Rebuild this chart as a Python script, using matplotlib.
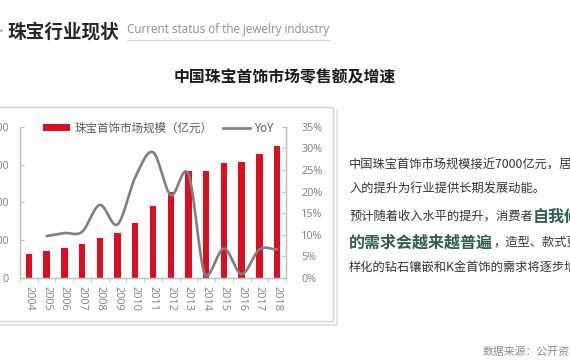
import numpy as np
import matplotlib
matplotlib.use("Agg")
import matplotlib.pyplot as plt
from matplotlib.lines import Line2D
from matplotlib.patches import Rectangle, Patch

plt.rcParams['font.family'] = ['Noto Sans CJK SC', 'DejaVu Sans']

# ---------------- data ----------------
years = ['2004', '2005', '2006', '2007', '2008', '2009', '2010', '2011',
         '2012', '2013', '2014', '2015', '2016', '2017', '2018']
market_size = [1290, 1450, 1610, 1785, 2120, 2385, 2915, 3800,
               4540, 5635, 5670, 6090, 6130, 6550, 6960]
yoy_years = ['2005', '2006', '2007', '2008', '2009', '2010', '2011',
             '2012', '2013', '2014', '2015', '2016', '2017', '2018']
yoy = [9.7, 10.4, 10.7, 16.9, 12.4, 23.3, 29.1, 19.2, 24.0, 0.5, 6.8, 0.9, 6.6, 6.6]
left_ticks = [0, 2000, 4000, 6000, 8000]
right_ticks = [0, 5, 10, 15, 20, 25, 30, 35]
legend_labels = ['珠宝首饰市场规模（亿元）', 'YoY']

header_cn = '珠宝行业现状'
header_en = 'Current status of the jewelry industry'
chart_title = '中国珠宝首饰市场零售额及增速'
source_text = '数据来源：公开资料'

W, H = 570, 360
fig = plt.figure(figsize=(W / 100, H / 100), dpi=100)
fig.patch.set_facecolor('white')

def fx(px):
    return px / W

def fy(py):
    return 1 - py / H

RED = '#dc0f20'
GRAY_LINE = '#7f7f7f'
AX_GRAY = '#bfbfbf'
TICK_GRAY = '#7f7f7f'

# ---------------- chart frame ----------------
fig.add_artist(Rectangle((fx(-3), fy(321)), fx(336), fy(107) - fy(321),
                         transform=fig.transFigure, fill=False,
                         edgecolor='#d4d4d4', lw=1.0))
fig.add_artist(Line2D([fx(337), fx(337)], [fy(110), fy(325)],
                      transform=fig.transFigure, color='#e2e2e2', lw=1.3))
fig.add_artist(Line2D([fx(0), fx(337)], [fy(325), fy(325)],
                      transform=fig.transFigure, color='#e2e2e2', lw=1.3))

# ---------------- axes ----------------
ax = fig.add_axes([fx(20), fy(278), fx(286) - fx(20), fy(126.7) - fy(278)])
ax2 = ax.twinx()
x = np.arange(len(years))
ax.bar(x, market_size, width=0.36, color=RED, zorder=2)
ax.set_xlim(-0.5, len(years) - 0.55)
ax.set_ylim(0, 8000)
ax.set_yticks(left_ticks)
ax.set_yticklabels([str(v) for v in left_ticks])
ax.set_xticks(x)
ax.set_xticklabels(years, rotation=-90)
ax.set_xticks(np.arange(-0.5, len(years)), minor=True)

ax2.set_ylim(0, 35)
ax2.set_yticks(right_ticks)
ax2.set_yticklabels([f'{v}%' for v in right_ticks])

# smoothed YoY curve (Hermite rendering through the read points)
xp = np.array([years.index(y) for y in yoy_years], dtype=float)
yp = np.array(yoy, dtype=float)
n = len(xp)
mx = np.zeros(n); my = np.zeros(n)
for i in range(n):
    a = max(i - 1, 0); b = min(i + 1, n - 1)
    mx[i] = (xp[b] - xp[a]) / (b - a)
    my[i] = (yp[b] - yp[a]) / (b - a)
    # avoid dipping below deep minima
    if 0 < i < n - 1 and yp[i] < yp[i - 1] and yp[i] < yp[i + 1] and yp[i] < 3:
        my[i] = 0.0
cx, cy = [], []
t = np.linspace(0, 1, 30)
h00 = 2 * t**3 - 3 * t**2 + 1
h10 = t**3 - 2 * t**2 + t
h01 = -2 * t**3 + 3 * t**2
h11 = t**3 - t**2
for i in range(n - 1):
    cx.extend(h00 * xp[i] + h10 * mx[i] + h01 * xp[i + 1] + h11 * mx[i + 1])
    cy.extend(h00 * yp[i] + h10 * my[i] + h01 * yp[i + 1] + h11 * my[i + 1])
ax2.plot(cx, cy, color=GRAY_LINE, lw=1.9, zorder=3, solid_capstyle='round')

for a in (ax, ax2):
    a.spines['top'].set_visible(False)
    for s in ('left', 'right', 'bottom'):
        a.spines[s].set_color(AX_GRAY)
        a.spines[s].set_linewidth(0.9)

ax.tick_params(axis='y', direction='in', length=3, color=AX_GRAY, pad=8,
               labelcolor=TICK_GRAY, labelsize=7.8)
ax.tick_params(axis='x', which='major', length=0, pad=6,
               labelcolor=TICK_GRAY, labelsize=7.8)
ax.tick_params(axis='x', which='minor', direction='out', length=3, color=AX_GRAY)
ax2.tick_params(axis='y', direction='in', length=3, color=AX_GRAY, pad=11,
                labelcolor=TICK_GRAY, labelsize=7.8)
for lab in ax.get_xticklabels() + ax.get_yticklabels() + ax2.get_yticklabels():
    lab.set_fontfamily(['Open Sans', 'DejaVu Sans'])

handles = [Patch(facecolor=RED, edgecolor='none'),
           Line2D([0], [0], color=GRAY_LINE, lw=1.9)]
leg = fig.legend(handles, legend_labels, loc='center left',
                 bbox_to_anchor=(fx(43), fy(128)), bbox_transform=fig.transFigure,
                 ncol=2, frameon=False, fontsize=8.3, borderpad=0, borderaxespad=0,
                 handlelength=2.35, handleheight=0.55, handletextpad=0.35,
                 columnspacing=0.9)
for txt in leg.get_texts():
    txt.set_color('#595959')

# ---------------- header ----------------
fig.add_artist(Line2D([fx(127), fx(330)], [fy(40), fy(40)],
                      transform=fig.transFigure, color='#d9d9d9', lw=1.0))
fig.text(fx(-1), fy(32), '•', color='#a0a0a0', fontsize=6, va='center', ha='left',
         family=['DejaVu Sans'])
fig.text(fx(7), fy(32), header_cn, fontsize=13.4, fontweight='bold',
         color='#262626', va='center', ha='left')
fig.text(fx(127), fy(29), header_en, fontsize=8.4, color='#8c8c8c',
         va='center', ha='left', family=['Open Sans', 'DejaVu Sans'])
fig.text(fx(285), fy(77), chart_title, fontsize=11.4, fontweight='bold',
         color='#1a1a1a', va='center', ha='center')

# ---------------- paragraph ----------------
BODY = '#333333'
GREEN = '#2d5e4f'
normal = dict(fontsize=8.8, color=BODY, fontweight='normal')
big = dict(fontsize=11.5, color=GREEN, fontweight='bold')
lines = [
    (164, [('中国珠宝首饰市场规模接近7000亿元，居民收', normal)]),
    (188, [('入的提升为行业提供长期发展动能。', normal)]),
    (215, [('预计随着收入水平的提升，消费者', normal), ('自我修饰', big)]),
    (241, [('的需求会越来越普遍', big), ('，造型、款式更加多', normal)]),
    (266, [('样化的钻石镶嵌和K金首饰的需求将逐步增加。', normal)]),
]
renderer = fig.canvas.get_renderer()
for ypx, parts in lines:
    xcur = 349
    for s, style in parts:
        t_ = fig.text(fx(xcur), fy(ypx), s, va='center_baseline', ha='left', **style)
        bb = t_.get_window_extent(renderer=renderer)
        xcur = bb.x1

fig.text(fx(483), fy(352), source_text, fontsize=7.8, color='#8c8c8c',
         va='center', ha='left')

fig.savefig('out.png', dpi=100, facecolor='white')
